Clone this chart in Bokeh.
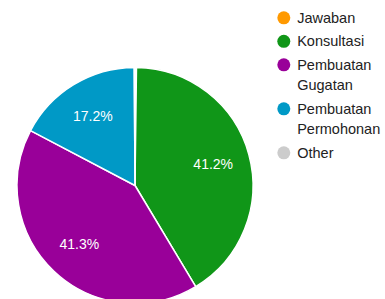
import math
from bokeh.plotting import figure
from bokeh.models import Range1d, ColumnDataSource
from bokeh.core.properties import value
from bokeh.embed import file_html
from bokeh.resources import INLINE

# ---- data ----
categories = ["Jawaban", "Konsultasi", "Pembuatan Gugatan", "Pembuatan Permohonan", "Other"]
legend_lines = [["Jawaban"], ["Konsultasi"], ["Pembuatan", "Gugatan"], ["Pembuatan", "Permohonan"], ["Other"]]
values = [0.2, 41.2, 41.3, 17.2, 0.1]
pct_labels = ["", "41.2%", "41.3%", "17.2%", ""]
colors = ["#ff9900", "#109618", "#990099", "#0099c6", "#cccccc"]

W, H = 385, 299
p = figure(width=W, height=H, output_backend="svg", toolbar_location=None,
           x_range=Range1d(0, W), y_range=Range1d(0, H), min_border=0)
p.axis.visible = False
p.grid.visible = False
p.outline_line_color = None
p.background_fill_color = "white"
p.border_fill_color = "white"

cx, cy, R = 134.5, H - 185, 118
total = sum(values)
starts, ends, lx, ly, lt = [], [], [], [], []
cum = 0.0
for v, lab in zip(values, pct_labels):
    a0 = math.pi / 2 - 2 * math.pi * cum / total
    cum += v
    a1 = math.pi / 2 - 2 * math.pi * cum / total
    starts.append(a0)
    ends.append(a1)
    mid = (a0 + a1) / 2
    lx.append(cx + 81 * math.cos(mid))
    ly.append(cy + 81 * math.sin(mid))
    lt.append(lab)

src = ColumnDataSource(dict(start=starts, end=ends, color=colors, x=[cx] * 5, y=[cy] * 5))
p.wedge(x="x", y="y", radius=R, start_angle="start", end_angle="end", direction="clock",
        fill_color="color", line_color="white", line_width=1.5, source=src)

p.text(x=lx, y=ly, text=lt, text_color="white", text_font=value("Liberation Sans"),
       text_font_size="14px", text_align="center", text_baseline="middle")

# legend
mx, tx = 283.3, 296.7
y = H - 17.3
mxs, mys, txs, tys, tts = [], [], [], [], []
for lines, c in zip(legend_lines, colors):
    mxs.append(mx)
    mys.append(y)
    for i, ln in enumerate(lines):
        txs.append(tx)
        tys.append(y - i * 20.5)
        tts.append(ln)
    y -= len(lines) * 20.5 + 3
p.scatter(x=mxs, y=mys, size=13, marker="circle", fill_color=colors, line_color=None)
p.text(x=txs, y=tys, text=tts, text_color="#222222", text_font=value("Liberation Sans"),
       text_font_size="14.5px", text_align="left", text_baseline="middle")

open("out.html", "w").write(file_html(p, INLINE))
